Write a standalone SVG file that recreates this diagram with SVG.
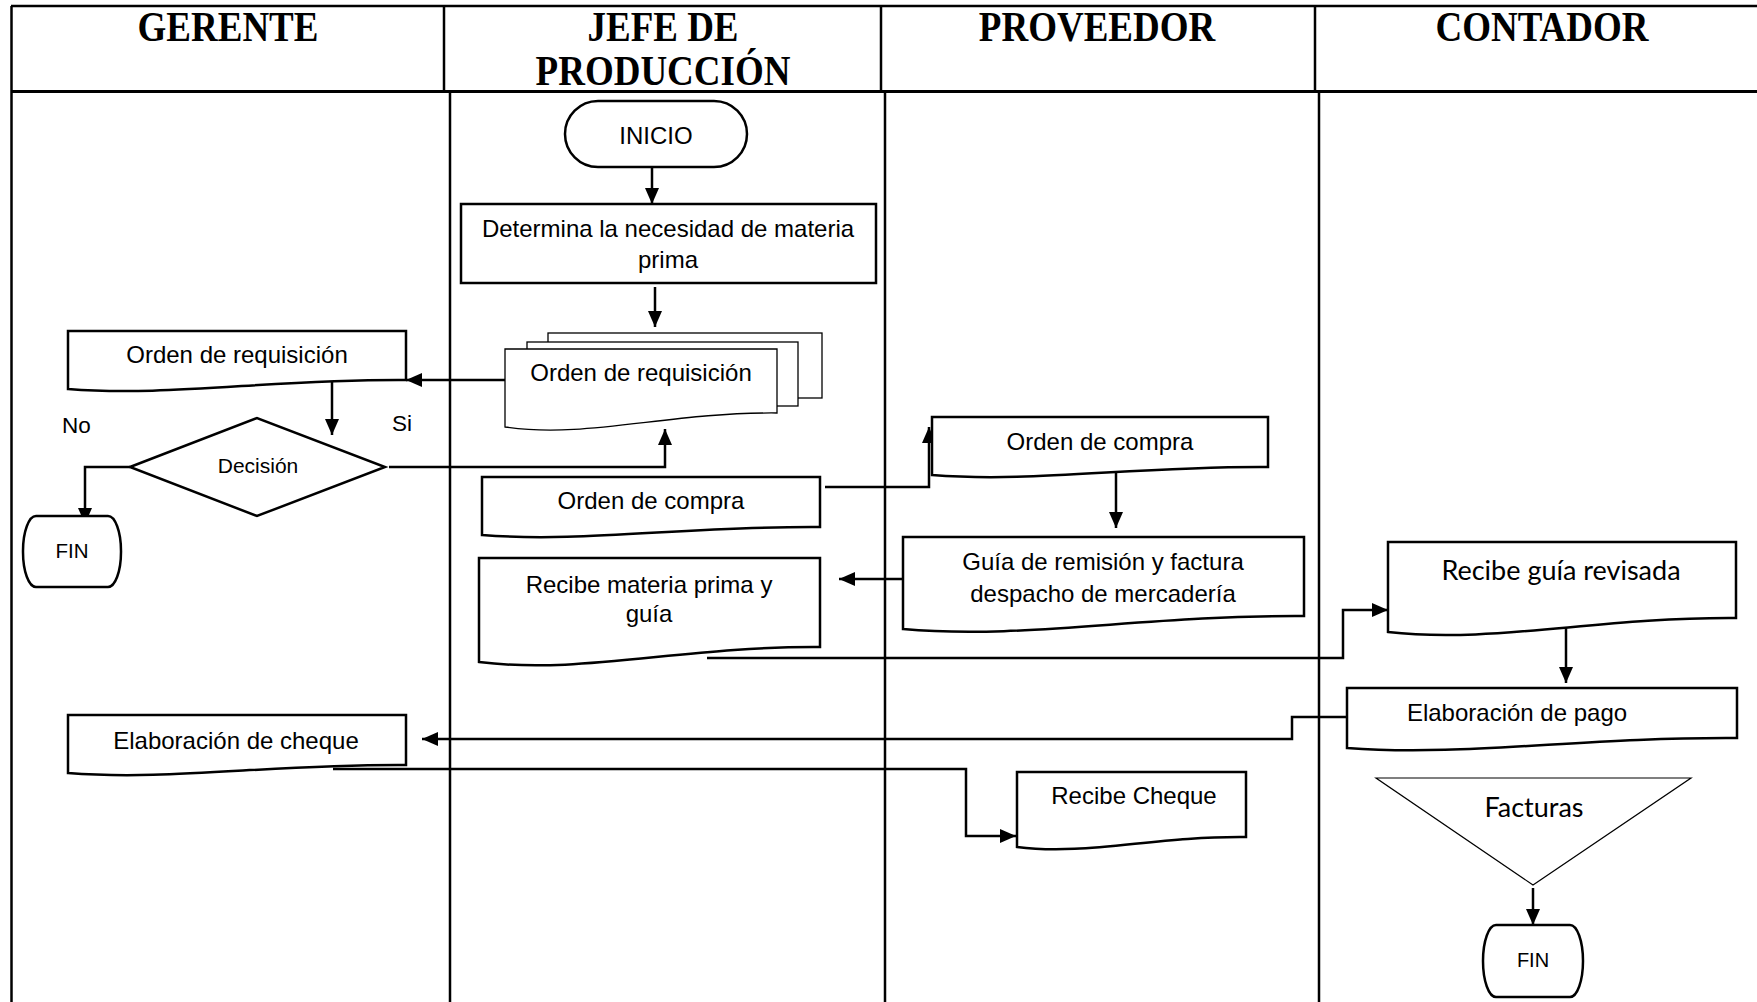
<svg xmlns="http://www.w3.org/2000/svg" width="1757" height="1002" viewBox="0 0 1757 1002">
  <defs>
    <marker id="ah" viewBox="0 0 16 14" refX="16" refY="7" markerWidth="16" markerHeight="14" markerUnits="userSpaceOnUse" orient="auto">
      <path d="M0,0 L16,7 L0,14 Z" fill="#000"/>
    </marker>
    <style>
      .grid { stroke: #000; stroke-width: 2.5; fill: none; }
      .head { font-family: "Liberation Serif", "Times New Roman", serif; font-weight: bold; font-size: 37px; text-anchor: middle; fill: #000; }
      .shape { fill: #fff; stroke: #000; stroke-width: 2.5; }
      .thin { fill: #fff; stroke: #000; stroke-width: 1.3; }
      .lbl { font-family: "Liberation Sans", Arial, sans-serif; font-size: 24px; text-anchor: middle; fill: #000; }
      .cal { font-family: Lato, "Open Sans", sans-serif; font-size: 27px; text-anchor: middle; fill: #000; }
      .conn { fill: none; stroke: #000; stroke-width: 2.5; }
    </style>
  </defs>
  <rect width="1757" height="1002" fill="#fff"/>

  <!-- swimlane table -->
  <g id="lanes">
    <line class="grid" x1="11" y1="6" x2="1757" y2="6"/>
    <line class="grid" x1="11" y1="91.5" x2="1757" y2="91.5" style="stroke-width:3"/>
    <line class="grid" x1="11.5" y1="6" x2="11.5" y2="1002"/>
    <line class="grid" x1="444" y1="6" x2="444" y2="91"/>
    <line class="grid" x1="881" y1="6" x2="881" y2="91"/>
    <line class="grid" x1="1315" y1="6" x2="1315" y2="91"/>
    <line class="grid" x1="450" y1="91" x2="450" y2="1002"/>
    <line class="grid" x1="885" y1="91" x2="885" y2="1002"/>
    <line class="grid" x1="1319" y1="91" x2="1319" y2="1002"/>
    <text class="head" transform="translate(228,41) scale(1,1.14)">GERENTE</text>
    <text class="head" transform="translate(663,41) scale(1,1.14)">JEFE DE</text>
    <text class="head" transform="translate(663,85) scale(1,1.14)">PRODUCCIÓN</text>
    <text class="head" transform="translate(1097,41) scale(1,1.14)">PROVEEDOR</text>
    <text class="head" transform="translate(1542,41) scale(1,1.14)">CONTADOR</text>
  </g>

  <!-- connectors -->
  <g id="connectors">
    <path class="conn" d="M652,167 V204" marker-end="url(#ah)"/>
    <path class="conn" d="M655,287 V327" marker-end="url(#ah)"/>
    <path class="conn" d="M505,380 H406" marker-end="url(#ah)"/>
    <path class="conn" d="M332,380 V435" marker-end="url(#ah)"/>
    <path class="conn" d="M130,467 H85 V524" marker-end="url(#ah)"/>
    <path class="conn" d="M389,467 H665 V429" marker-end="url(#ah)"/>
    <path class="conn" d="M825,487 H929 V427" marker-end="url(#ah)"/>
    <path class="conn" d="M1116,472 V528" marker-end="url(#ah)"/>
    <path class="conn" d="M905,579 H839" marker-end="url(#ah)"/>
    <path class="conn" d="M707,658 H1343 V610 H1388" marker-end="url(#ah)"/>
    <path class="conn" d="M1566,624 V683" marker-end="url(#ah)"/>
    <path class="conn" d="M1347,717 H1292 V739 H422" marker-end="url(#ah)"/>
    <path class="conn" d="M333,769 H966 V836 H1016" marker-end="url(#ah)"/>
    <path class="conn" d="M1533,888 V925" marker-end="url(#ah)"/>
  </g>

  <g id="inicio">
    <rect class="shape" x="565" y="101" width="182" height="66" rx="33" ry="33"/>
    <text class="lbl" x="656" y="144">INICIO</text>
  </g>

  <g id="determina">
    <rect class="shape" x="461" y="204" width="415" height="79"/>
    <text class="lbl" x="668" y="237">Determina la necesidad de materia</text>
    <text class="lbl" x="668" y="268">prima</text>
  </g>

  <g id="orden-requisicion-jefe">
    <rect class="thin" x="548" y="333" width="274" height="65"/>
    <rect class="thin" x="527" y="342" width="271" height="64"/>
    <path class="thin" d="M505,349 H777 V413 C668,412 587,439 505,427 Z"/>
    <text class="lbl" x="641" y="381">Orden de requisición</text>
  </g>

  <g id="orden-requisicion-gerente">
    <path class="shape" d="M68,331 H406 V380 C271,379 169,397 68,389 Z"/>
    <text class="lbl" x="237" y="363">Orden de requisición</text>
  </g>

  <g id="decision">
    <polygon class="shape" points="130,467 257,418 385,467 257,516"/>
    <text class="lbl" x="258" y="473" style="font-size:21px">Decisión</text>
    <text class="lbl" x="62" y="433" style="font-size:22.5px;text-anchor:start">No</text>
    <text class="lbl" x="392" y="431" style="font-size:22.5px;text-anchor:start">Si</text>
  </g>

  <g id="fin-gerente">
    <rect class="shape" x="23" y="516" width="98" height="71" rx="13" ry="35"/>
    <text class="lbl" x="72" y="558" style="font-size:20.5px">FIN</text>
  </g>

  <g id="orden-compra-jefe">
    <path class="shape" d="M482,477 H820 V527 C685,526 583,543 482,535 Z"/>
    <text class="lbl" x="651" y="509">Orden de compra</text>
  </g>

  <g id="recibe-materia">
    <path class="shape" d="M479,558 H820 V647 C684,646 581,675 479,662 Z"/>
    <text class="lbl" x="649" y="593">Recibe materia prima y</text>
    <text class="lbl" x="649" y="622">guía</text>
  </g>

  <g id="orden-compra-proveedor">
    <path class="shape" d="M932,417 H1268 V467 C1134,466 1033,483 932,475 Z"/>
    <text class="lbl" x="1100" y="450">Orden de compra</text>
  </g>

  <g id="guia-remision">
    <path class="shape" d="M903,537 H1304 V616 C1144,615 1023,640 903,629 Z"/>
    <text class="lbl" x="1103" y="570">Guía de remisión y factura</text>
    <text class="lbl" x="1103" y="602">despacho de mercadería</text>
  </g>

  <g id="recibe-guia-revisada">
    <path class="shape" d="M1388,542 H1736 V618 C1597,617 1492,644 1388,632 Z"/>
    <text class="cal" x="1561" y="580">Recibe guía revisada</text>
  </g>

  <g id="elaboracion-pago">
    <path class="shape" d="M1347,688 H1737 V738 C1581,737 1464,757 1347,748 Z"/>
    <text class="lbl" x="1517" y="721">Elaboración de pago</text>
  </g>

  <g id="elaboracion-cheque">
    <path class="shape" d="M68,715 H406 V765 C271,764 169,781 68,773 Z"/>
    <text class="lbl" x="236" y="749">Elaboración de cheque</text>
  </g>

  <g id="recibe-cheque">
    <path class="shape" d="M1017,772 H1246 V837 C1154,836 1086,856 1017,847 Z"/>
    <text class="lbl" x="1134" y="804">Recibe Cheque</text>
  </g>

  <g id="facturas">
    <polygon class="thin" points="1376,778 1691,778 1533,885" style="stroke-width:1.2"/>
    <text class="cal" x="1534" y="817">Facturas</text>
  </g>

  <g id="fin-contador">
    <rect class="shape" x="1483" y="925" width="100" height="72" rx="13" ry="36"/>
    <text class="lbl" x="1533" y="967" style="font-size:20px">FIN</text>
  </g>
</svg>
